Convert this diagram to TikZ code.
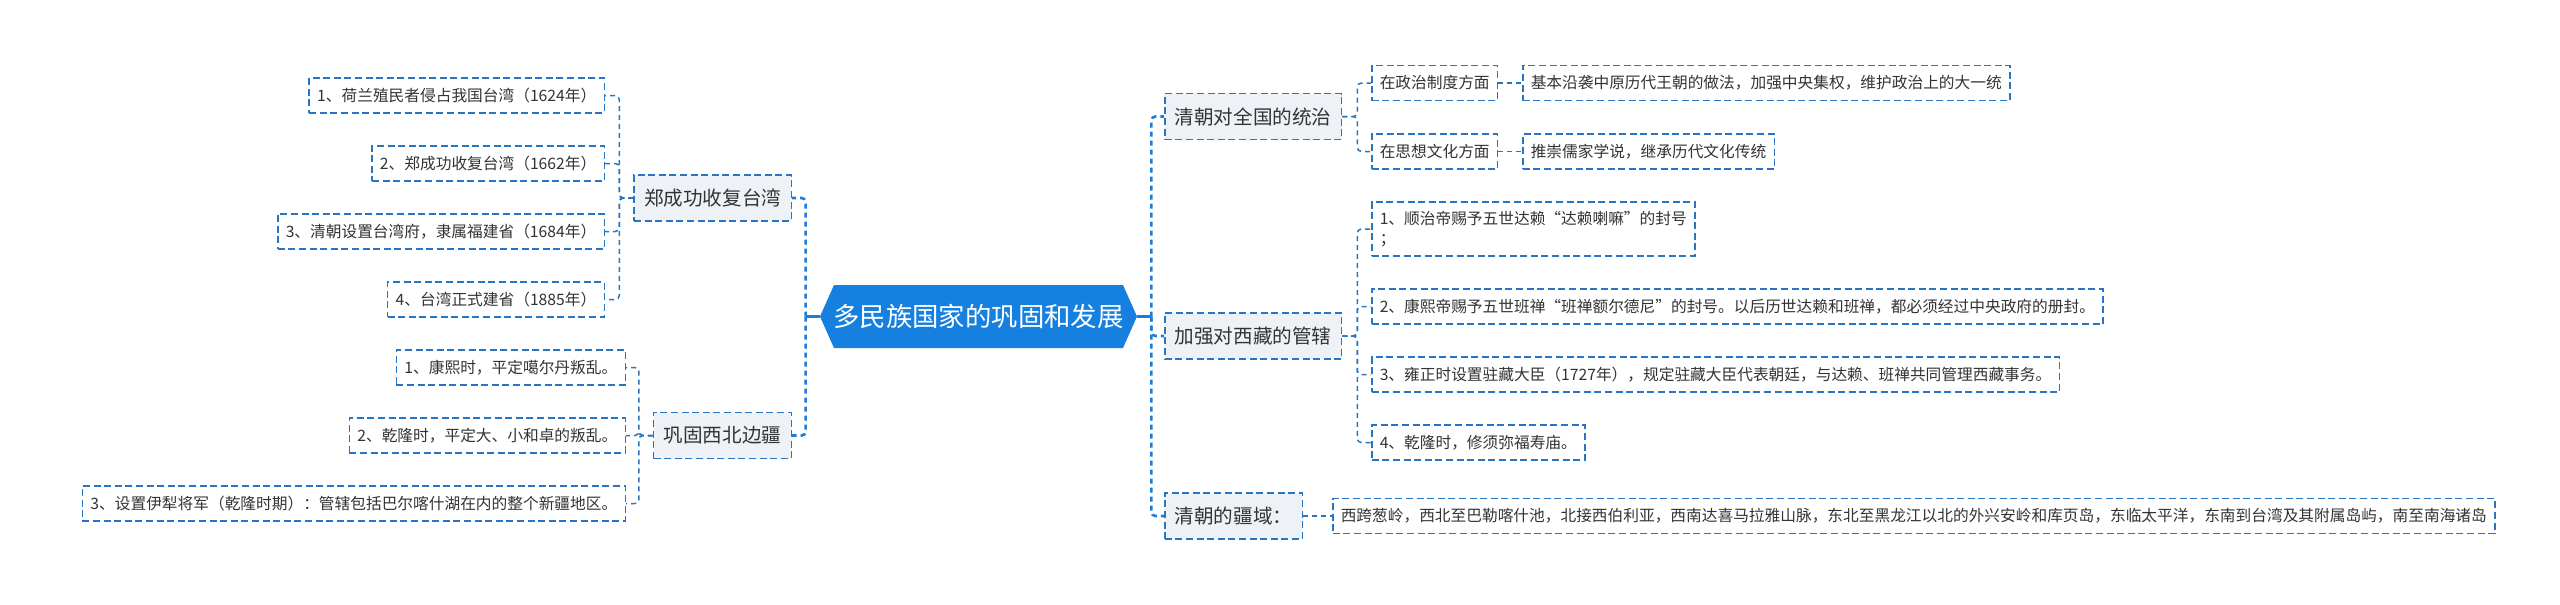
\documentclass[tikz,border=0pt]{standalone}
\usepackage{fontspec}
\setmainfont{Noto Sans CJK SC}
\usetikzlibrary{calc}
\definecolor{bordercol}{RGB}{40,118,194}
\definecolor{maincol}{RGB}{26,125,220}
\definecolor{centralfill}{RGB}{22,128,224}
\definecolor{topicfill}{RGB}{238,241,245}
\definecolor{textcol}{RGB}{51,51,51}
\newcommand\leaffont{\fontsize{7.85pt}{10pt}\selectfont}
\newcommand\topicfont{\fontsize{9.8pt}{12pt}\selectfont}
\newcommand\centralfont{\fontsize{13.2pt}{16pt}\selectfont}
\begin{document}
\begin{tikzpicture}[x=0.5pt,y=-0.5pt,
  leaf/.style={draw=bordercol, dash pattern=on 3.5pt off 1.8pt, line width=0.75pt,
    fill=white, font=\leaffont, text=textcol, minimum height=17.5pt,
    inner xsep=4pt, inner ysep=0pt},
  topic/.style={draw=bordercol, dash pattern=on 3.5pt off 1.8pt, line width=0.75pt,
    fill=topicfill, font=\topicfont, text=textcol, minimum height=23pt,
    inner xsep=5pt, inner ysep=0pt},
  central/.style={fill=white, minimum width=158.5pt, minimum height=31.5pt,
    inner sep=0pt, text=white, font=\centralfont,
    path picture={\fill[centralfill] (path picture bounding box.west)
      -- ([xshift=7pt]path picture bounding box.north west)
      -- ([xshift=-7pt]path picture bounding box.north east)
      -- (path picture bounding box.east)
      -- ([xshift=-7pt]path picture bounding box.south east)
      -- ([xshift=7pt]path picture bounding box.south west) -- cycle;}},
  conn/.style={draw=bordercol, line width=0.75pt, dash pattern=on 2.5pt off 2pt,
    rounded corners=2pt},
  mainconn/.style={draw=maincol, line width=1.3pt, dash pattern=on 2.5pt off 2pt,
    rounded corners=2pt},
  mainsolid/.style={draw=maincol, line width=1.3pt}
]
\useasboundingbox (0,0) rectangle (2560,605);

% central
\node[central] (c) at (978.5,316.5) {多民族国家的巩固和发展};

% left topics
\node[topic, anchor=east] (l1) at (792,198) {郑成功收复台湾};
\node[topic, anchor=east] (l2) at (792,435.5) {巩固西北边疆};

\node[leaf, anchor=east] (l1a) at (605,95.5) {1、荷兰殖民者侵占我国台湾（1624年）};
\node[leaf, anchor=east] (l1b) at (605,163.5) {2、郑成功收复台湾（1662年）};
\node[leaf, anchor=east] (l1c) at (605,231.5) {3、清朝设置台湾府，隶属福建省（1684年）};
\node[leaf, anchor=east] (l1d) at (605,299.5) {4、台湾正式建省（1885年）};

\node[leaf, anchor=east] (l2a) at (626,367.5) {1、康熙时，平定噶尔丹叛乱。};
\node[leaf, anchor=east] (l2b) at (626,435.5) {2、乾隆时，平定大、小和卓的叛乱。};
\node[leaf, anchor=east] (l2c) at (626,503.5) {3、设置伊犁将军（乾隆时期）：管辖包括巴尔喀什湖在内的整个新疆地区。};

% right topics
\node[topic, anchor=west] (r1) at (1164,116.5) {清朝对全国的统治};
\node[topic, anchor=west] (r2) at (1164,336) {加强对西藏的管辖};
\node[topic, anchor=west] (r3) at (1164,516) {清朝的疆域：};

\node[leaf, anchor=west] (r1a) at (1371,83) {在政治制度方面};
\node[leaf, anchor=west] (r1b) at (1371,151.5) {在思想文化方面};
\node[leaf, anchor=west] (r1a1) at (1522,83) {基本沿袭中原历代王朝的做法，加强中央集权，维护政治上的大一统};
\node[leaf, anchor=west] (r1b1) at (1522,151.5) {推崇儒家学说，继承历代文化传统};

\node[leaf, anchor=west, align=left, minimum height=27pt] (r2a) at (1371,229) {1、顺治帝赐予五世达赖“达赖喇嘛”的封号\\；};
\node[leaf, anchor=west] (r2b) at (1371,306.5) {2、康熙帝赐予五世班禅“班禅额尔德尼”的封号。以后历世达赖和班禅，都必须经过中央政府的册封。};
\node[leaf, anchor=west] (r2c) at (1371,374.5) {3、雍正时设置驻藏大臣（1727年），规定驻藏大臣代表朝廷，与达赖、班禅共同管理西藏事务。};
\node[leaf, anchor=west] (r2d) at (1371,442.5) {4、乾隆时，修须弥福寿庙。};

\node[leaf, anchor=west] (r3a) at (1332,516) {西跨葱岭，西北至巴勒喀什池，北接西伯利亚，西南达喜马拉雅山脉，东北至黑龙江以北的外兴安岭和库页岛，东临太平洋，东南到台湾及其附属岛屿，南至南海诸岛};

% main connectors
\draw[mainsolid] (c.west) -- ++(-14,0);
\draw[mainconn] (c.west) ++(-14,0) |- (l1.east);
\draw[mainconn] (c.west) ++(-14,0) |- (l2.east);
\draw[mainsolid] (c.east) -- ++(14,0);
\draw[mainconn] (c.east) ++(14,0) |- (r1.west);
\draw[mainconn] (c.east) ++(14,0) |- (r2.west);
\draw[mainconn] (c.east) ++(14,0) |- (r3.west);

% left secondary
\foreach \ch in {l1a,l1b,l1c,l1d}
  \draw[conn] (l1.west) -- ++(-14,0) |- (\ch.east);
\foreach \ch in {l2a,l2b,l2c}
  \draw[conn] (l2.west) -- ++(-14,0) |- (\ch.east);

% right secondary
\foreach \ch in {r1a,r1b}
  \draw[conn] (r1.east) -- ++(15,0) |- (\ch.west);
\foreach \ch in {r2a,r2b,r2c,r2d}
  \draw[conn] (r2.east) -- ++(15,0) |- (\ch.west);
\draw[conn] (r1a.east) -- (r1a1.west);
\draw[conn] (r1b.east) -- (r1b1.west);
\draw[conn] (r3.east) -- (r3a.west);
\end{tikzpicture}
\end{document}
